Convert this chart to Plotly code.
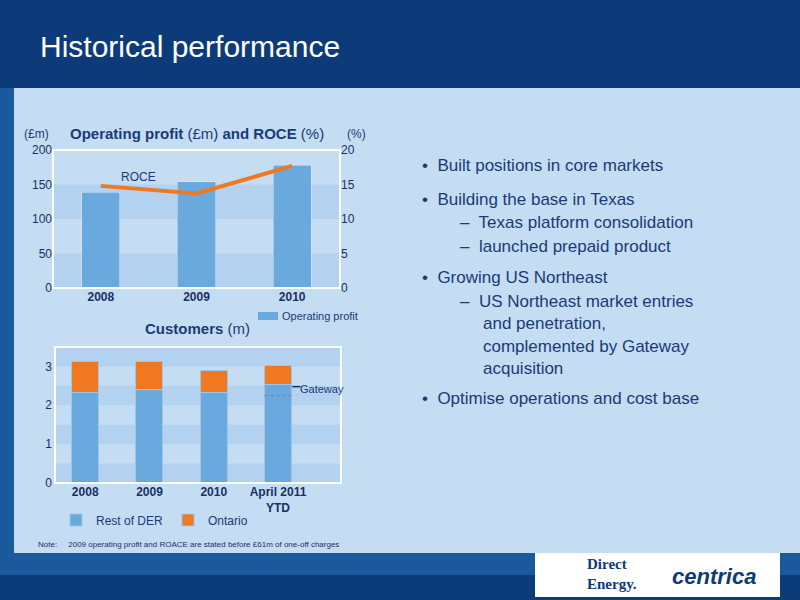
import plotly.graph_objects as go

years = ["2008", "2009", "2010"]
op_profit = [139, 154, 178]
roce = [14.8, 13.7, 17.7]
cust_cats = ["2008", "2009", "2010", "April 2011<br>YTD"]
rest_der = [2.32, 2.40, 2.32, 2.53]
ontario = [0.81, 0.72, 0.58, 0.49]
gateway_level = 2.25

W, H = 800, 600
def px(x): return x / W
def py(y): return 1 - y / H

fig = go.Figure()
fig.add_bar(x=years, y=op_profit, name="Operating profit", marker_color="#6aa9dd",
            width=0.4, xaxis="x", yaxis="y", showlegend=False)
fig.add_scatter(x=years, y=roce, mode="lines", line=dict(color="#f07820", width=4),
                xaxis="x", yaxis="y3", showlegend=False)
fig.add_bar(x=cust_cats, y=rest_der, name="Rest of DER", marker_color="#6aa9dd",
            marker_line=dict(color="#9fc6e8", width=1), width=0.42, xaxis="x2", yaxis="y2")
fig.add_bar(x=cust_cats, y=ontario, name="Ontario", marker_color="#f07820",
            marker_line=dict(color="#9fc6e8", width=1), width=0.42, xaxis="x2", yaxis="y2")

tick = dict(family="Arial", size=12, color="#1b2f63")
shapes = [
    dict(type="rect", xref="paper", yref="paper", x0=0, x1=1, y0=0, y1=1,
         fillcolor="#1a5a9c", line_width=0, layer="below"),
    dict(type="rect", xref="paper", yref="paper", x0=0, x1=1, y0=py(88), y1=1,
         fillcolor="#0d3a78", line_width=0, layer="below"),
    dict(type="rect", xref="paper", yref="paper", x0=px(14), x1=1, y0=py(553), y1=py(88),
         fillcolor="#c4ddf3", line_width=0, layer="below"),
    dict(type="rect", xref="paper", yref="paper", x0=0, x1=1, y0=0, y1=py(575),
         fillcolor="#0b3b78", line_width=0, layer="below"),
    dict(type="rect", xref="paper", yref="paper", x0=px(535), x1=px(780), y0=py(597), y1=py(553),
         fillcolor="#ffffff", line_width=0, layer="below"),
]
for lo, hi in [(0, 50), (100, 150)]:
    shapes.append(dict(type="rect", xref="x domain", yref="y", x0=0, x1=1, y0=lo, y1=hi,
                       fillcolor="#b3d2ef", line_width=0, layer="below"))
for lo in [0, 1, 2, 3]:
    shapes.append(dict(type="rect", xref="x2 domain", yref="y2", x0=0, x1=1, y0=lo, y1=lo + 0.5,
                       fillcolor="#b3d2ef", line_width=0, layer="below"))
shapes += [
    dict(type="rect", xref="x domain", yref="y domain", x0=0, x1=1, y0=0, y1=1,
         line=dict(color="white", width=2)),
    dict(type="rect", xref="x2 domain", yref="y2 domain", x0=0, x1=1, y0=0, y1=1,
         line=dict(color="white", width=2)),
    dict(type="line", xref="x2", yref="y2", x0=2.79, x1=3.21, y0=gateway_level, y1=gateway_level,
         line=dict(color="#7a8aa0", width=1.5, dash="dot")),
    dict(type="line", xref="x2", yref="y2", x0=3.22, x1=3.35, y0=2.48, y1=2.48,
         line=dict(color="#1b2f63", width=1.5)),
    dict(type="rect", xref="paper", yref="paper", x0=px(258), x1=px(278), y0=py(320), y1=py(312),
         fillcolor="#6aa9dd", line_width=0),
]

ann = [
    dict(text="Historical performance", x=px(38), y=py(46), xanchor="left",
         font=dict(family="Arial", size=30, color="white")),
    dict(text="<b>Operating profit</b> (£m) <b>and ROCE</b> (%)", x=px(197), y=py(133),
         font=dict(family="Arial", size=15, color="#1b3a78")),
    dict(text="(£m)", x=px(36), y=py(134), font=dict(family="Arial", size=12, color="#1b3a78")),
    dict(text="(%)", x=px(356), y=py(134), font=dict(family="Arial", size=12, color="#1b3a78")),
    dict(text="ROCE", x=px(138), y=py(177), font=dict(family="Arial", size=12, color="#1b3a78")),
    dict(text="Operating profit", x=px(280), y=py(316), xanchor="left",
         font=dict(family="Arial", size=11, color="#1b3a78")),
    dict(text="<b>Customers</b> (m)", x=px(197), y=py(328),
         font=dict(family="Arial", size=15, color="#1b3a78")),
    dict(text="Gateway", x=px(298), y=py(389), xanchor="left",
         font=dict(family="Arial", size=11, color="#1b3a78")),
    dict(text="Note:     2009 operating profit and ROACE are stated before £61m of one-off charges",
         x=px(36), y=py(544), xanchor="left", font=dict(family="Arial", size=8, color="#1b2f63")),
    dict(text="<b>Direct<br>Energy.</b>", x=px(585), y=py(574), xanchor="left", align="left",
         font=dict(family="Liberation Serif", size=15, color="#0d3a78")),
    dict(text="<b><i>centrica</i></b>", x=px(670), y=py(576), xanchor="left",
         font=dict(family="Arial", size=22, color="#0d3a78")),
]
bullets = [
    (420, 166, "•  Built positions in core markets"),
    (420, 200, "•  Building the base in Texas"),
    (458, 223, "–  Texas platform consolidation"),
    (458, 247, "–  launched prepaid product"),
    (420, 277, "•  Growing US Northeast"),
    (458, 301, "–  US Northeast market entries"),
    (481, 323, "and penetration,"),
    (481, 346, "complemented by Gateway"),
    (481, 368, "acquisition"),
    (420, 398, "•  Optimise operations and cost base"),
]
for x, y, t in bullets:
    ann.append(dict(text=t, x=px(x), y=py(y), xanchor="left",
                    font=dict(family="Arial", size=17, color="#1b3a78")))
for a in ann:
    a.update(xref="paper", yref="paper", showarrow=False, yanchor="middle")
    a.setdefault("xanchor", "center")

ax = dict(automargin=False, showgrid=False, zeroline=False, tickfont=tick,
          tickprefix="<b>", ticksuffix="</b>")
fig.update_layout(
    width=W, height=H, autosize=False, margin=dict(l=0, r=0, t=0, b=0, pad=0),
    paper_bgcolor="#1a5a9c", plot_bgcolor="#c4ddf3", barmode="stack",
    shapes=shapes, annotations=ann,
    xaxis=dict(ax, domain=[px(53), px(340)], anchor="y"),
    yaxis=dict(ax, domain=[py(288), py(150)], range=[0, 200], tickvals=[0, 50, 100, 150, 200]),
    yaxis3=dict(ax, overlaying="y", side="right", anchor="x", range=[0, 20],
                tickvals=[0, 5, 10, 15, 20]),
    xaxis2=dict(ax, domain=[px(55), px(341)], anchor="y2", range=[-0.47, 3.98]),
    yaxis2=dict(ax, domain=[py(483), py(347)], range=[0, 3.5], tickvals=[0, 1, 2, 3]),
    legend=dict(orientation="h", x=px(56), y=py(520), yanchor="middle", xanchor="left",
                traceorder="normal", itemwidth=30, font=dict(family="Arial", size=12, color="#1b3a78"),
                bgcolor="rgba(0,0,0,0)"),
)
fig.write_html("out.html", config={"responsive": False, "displayModeBar": False},
               post_script="document.body.style.margin='0';document.body.style.overflow='hidden';")
